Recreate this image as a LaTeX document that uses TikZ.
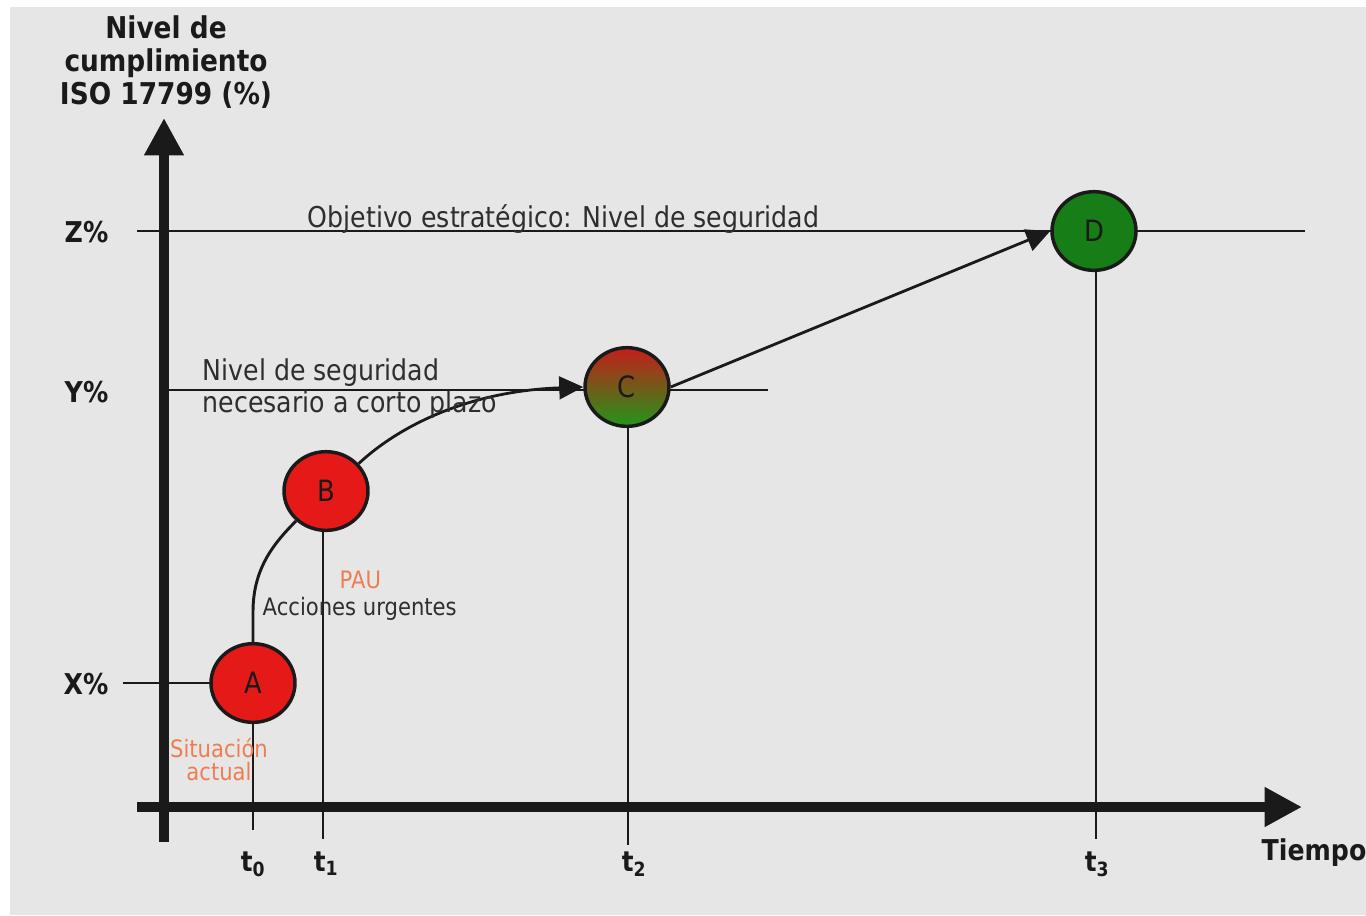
\documentclass[tikz,border=0pt]{standalone}
\usepackage{fontspec}
\setmainfont{DejaVu Sans}[FakeStretch=0.88]
\usetikzlibrary{arrows.meta,shapes.geometric}

\definecolor{bgc}{HTML}{E6E6E6}
\definecolor{linec}{HTML}{1A1A1A}
\definecolor{redc}{HTML}{E61919}
\definecolor{greenc}{HTML}{177E17}
\definecolor{ctop}{HTML}{C41E1A}
\definecolor{cmid}{HTML}{9A6A1C}
\definecolor{cbot}{HTML}{22961A}
\definecolor{orangec}{HTML}{EE7D52}
\definecolor{textc}{HTML}{2E2E2E}

\begin{document}
\begin{tikzpicture}[x=0.75pt,y=-0.75pt,
  fine/.style={draw=linec, line width=2.2pt},
  axisline/.style={draw=linec, line width=7.5pt, -{Triangle[length=28pt,width=28pt]}},
  conn/.style={draw=linec, line width=2.1pt, -{Triangle[length=18pt,width=17pt]}},
  circ/.style={ellipse, draw=linec, line width=2.6pt, minimum width=63pt,
    minimum height=59pt, inner sep=0pt, text=linec,
    font=\fontsize{22pt}{26pt}\selectfont},
  bigbold/.style={font=\fontsize{22.5pt}{24.75pt}\selectfont\bfseries, text=linec},
  lbl/.style={font=\fontsize{21.5pt}{25pt}\selectfont, text=textc},
  small/.style={font=\fontsize{18pt}{20pt}\selectfont, text=textc},
  pct/.style={font=\fontsize{21.5pt}{24pt}\selectfont\bfseries, text=linec, anchor=east},
  tick/.style={font=\fontsize{21pt}{24pt}\selectfont\bfseries, text=linec, anchor=base}]

% canvas
\fill[white] (0,0) rectangle (1366,915);
\fill[bgc] (10,7) rectangle (1366,915);
\useasboundingbox (0,0) rectangle (1366,915);

% reference levels
\coordinate (zl) at (137,231);
\coordinate (zr) at (1305,231);
\coordinate (yl) at (164,390);
\coordinate (yr) at (768,390);
\coordinate (xl) at (123,683);
\coordinate (xr) at (253,683);
\draw[fine] (zl) -- (zr);
\draw[fine] (yl) -- (yr);
\draw[fine] (xl) -- (xr);

% axes
\coordinate (ybot) at (164,842);
\coordinate (ytop) at (164,118);
\coordinate (xleft) at (137,807);
\coordinate (xright) at (1302,807);
\draw[axisline] (ybot) -- (ytop);
\draw[axisline] (xleft) -- (xright);

% milestones
\node[circ, fill=redc] (A) at (253,683) {A};
\node[circ, fill=redc] (B) at (326,491) {B};
\node[circ, top color=ctop, middle color=cmid, bottom color=cbot] (C) at (627,387) {C};
\node[circ, fill=greenc] (D) at (1094,231) {D};

% time markers
\coordinate (t0b) at (253,830);
\coordinate (t1b) at (323,839);
\coordinate (t2b) at (628,845);
\coordinate (t3b) at (1096,839);
\draw[fine] (A.south) -- (t0b);
\draw[fine] (B.south -| t1b) -- (t1b);
\draw[fine] (C.south -| t2b) -- (t2b);
\draw[fine] (D.south -| t3b) -- (t3b);

% progression path
\draw[fine] (A.north) -- (253,612) .. controls (253,570) and (272,545) .. (B.225);
\draw[conn] (B.40) .. controls (400,425) and (470,391) .. (C.west);
\draw[conn] (C.east) -- (D.west);

% texts
\node[bigbold, align=center] (ttl) at (166,62) {Nivel de\\cumplimiento\\ISO 17799 (\%)};
\node[lbl, anchor=base west] (obj) at (303,227) {Objetivo estratégico: Nivel de seguridad};
\node[lbl, anchor=base west] (ns1) at (198,380) {Nivel de seguridad};
\node[lbl, anchor=base west] (ns2) at (198,412) {necesario a corto plazo};
\node[small, anchor=base west, text=orangec] (pau) at (335,588) {PAU};
\node[small, anchor=base west] (acc) at (258,615) {Acciones urgentes};
\node[small, anchor=base, text=orangec] (sit) at (219,757) {Situación};
\node[small, anchor=base, text=orangec] (act) at (219,780) {actual};

\node[pct] (zp) at (113,232) {Z\%};
\node[pct] (yp) at (113,392) {Y\%};
\node[pct] (xp) at (113,684) {X\%};

\node[tick] (t0) at (253,871) {t\textsubscript{0}};
\node[tick] (t1) at (326,871) {t\textsubscript{1}};
\node[tick] (t2) at (634,871) {t\textsubscript{2}};
\node[tick] (t3) at (1097,871) {t\textsubscript{3}};
\node[bigbold, anchor=base west, font=\fontsize{21.5pt}{24pt}\selectfont\bfseries] (tiempo) at (1257,860) {Tiempo};
\end{tikzpicture}
\end{document}
